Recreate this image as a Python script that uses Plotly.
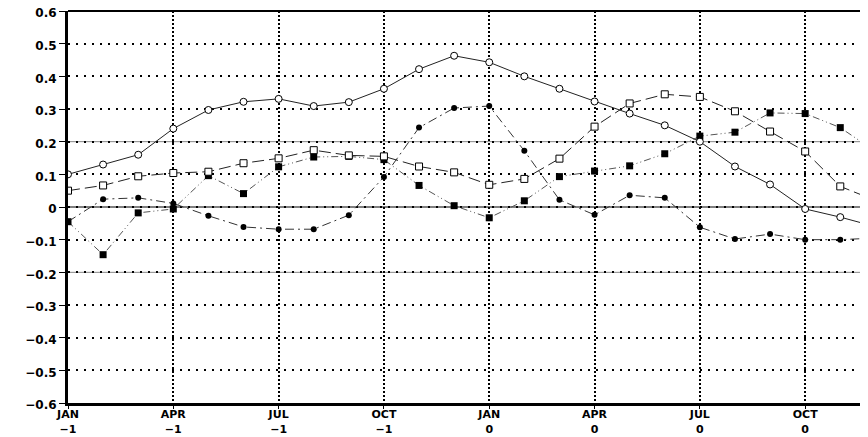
import plotly.graph_objects as go

months = list(range(24))
tick_vals = [0, 3, 6, 9, 12, 15, 18, 21]
tick_text = ["JAN<br>−1", "APR<br>−1", "JUL<br>−1", "OCT<br>−1",
             "JAN<br>0", "APR<br>0", "JUL<br>0", "OCT<br>0"]
y_vals = [-0.6, -0.5, -0.4, -0.3, -0.2, -0.1, 0, 0.1, 0.2, 0.3, 0.4, 0.5, 0.6]
y_text = ["−0.6", "−0.5", "−0.4", "−0.3", "−0.2", "−0.1", "0",
          "0.1", "0.2", "0.3", "0.4", "0.5", "0.6"]

open_circles = [0.10, 0.13, 0.16, 0.24, 0.297, 0.322, 0.331, 0.309, 0.321, 0.362,
                0.422, 0.463, 0.443, 0.40, 0.362, 0.323, 0.286, 0.25, 0.20, 0.124,
                0.069, -0.006, -0.031, -0.06]
open_squares = [0.05, 0.066, 0.094, 0.104, 0.108, 0.134, 0.149, 0.174, 0.158, 0.155,
                0.124, 0.106, 0.068, 0.086, 0.148, 0.246, 0.317, 0.345, 0.337, 0.293,
                0.231, 0.17, 0.063, 0.02]
filled_circles = [-0.045, 0.024, 0.028, 0.011, -0.027, -0.061, -0.068, -0.068, -0.025, 0.092,
                  0.243, 0.303, 0.309, 0.172, 0.022, -0.024, 0.036, 0.028, -0.062, -0.098,
                  -0.083, -0.10, -0.10, -0.095]
filled_squares = [-0.045, -0.146, -0.018, -0.006, 0.096, 0.041, 0.123, 0.153, 0.155, 0.145,
                  0.066, 0.004, -0.033, 0.019, 0.093, 0.11, 0.126, 0.163, 0.217, 0.229,
                  0.288, 0.286, 0.243, 0.17]

fig = go.Figure()

fig.add_trace(go.Scatter(
    x=months, y=filled_squares, mode="lines+markers",
    line=dict(color="#555555", width=1, dash="7px,3px,1px,3px,1px,3px"),
    marker=dict(symbol="square", size=7, color="black"),
    showlegend=False))
fig.add_trace(go.Scatter(
    x=months, y=filled_circles, mode="lines+markers",
    line=dict(color="#333333", width=1, dash="9px,4px,2px,4px"),
    marker=dict(symbol="circle", size=6, color="black"),
    showlegend=False))
fig.add_trace(go.Scatter(
    x=months, y=open_squares, mode="lines+markers",
    line=dict(color="#222222", width=1, dash="12px,5px"),
    marker=dict(symbol="square", size=7, color="white", line=dict(color="black", width=1)),
    showlegend=False))
fig.add_trace(go.Scatter(
    x=months, y=open_circles, mode="lines+markers",
    line=dict(color="#222222", width=1),
    marker=dict(symbol="circle", size=7, color="white", line=dict(color="black", width=1)),
    showlegend=False))

# reference lines
for yv in [0.2, -0.2]:
    fig.add_hline(y=yv, line=dict(color="#888888", width=1), layer="below")
fig.add_hline(y=0, line=dict(color="black", width=1), layer="below")
# top frame line
fig.add_shape(type="line", xref="paper", yref="paper", x0=0, x1=1, y0=1, y1=1,
              line=dict(color="black", width=2))

xfont = dict(family="DejaVu Sans", size=11, color="black", weight="bold")
yfont = dict(family="DejaVu Sans", size=12, color="black", weight="bold")

fig.update_xaxes(
    range=[0, 22.79], tickmode="array", tickvals=tick_vals, ticktext=tick_text,
    showgrid=True, gridcolor="black", gridwidth=2, griddash="2px,2px",
    showline=True, linecolor="black", linewidth=3,
    ticks="outside", ticklen=3, tickcolor="black", tickwidth=1,
    tickfont=xfont, zeroline=False, ticklabeloverflow="allow", automargin=False,
    ticklabelstandoff=-4)
fig.update_yaxes(
    range=[-0.6, 0.6], tickmode="array", tickvals=y_vals, ticktext=y_text,
    showgrid=True, gridcolor="black", gridwidth=2, griddash="2px,6px",
    showline=True, linecolor="black", linewidth=3,
    ticks="outside", ticklen=6, tickcolor="black", tickwidth=1,
    tickfont=yfont, zeroline=False, ticklabeloverflow="allow", automargin=False,
    ticklabelshift=2)

fig.update_layout(
    width=860, height=429,
    margin=dict(l=60, r=0, t=3, b=34, autoexpand=False),
    plot_bgcolor="white", paper_bgcolor="white",
    font=xfont)

fig.write_html("out.html")
